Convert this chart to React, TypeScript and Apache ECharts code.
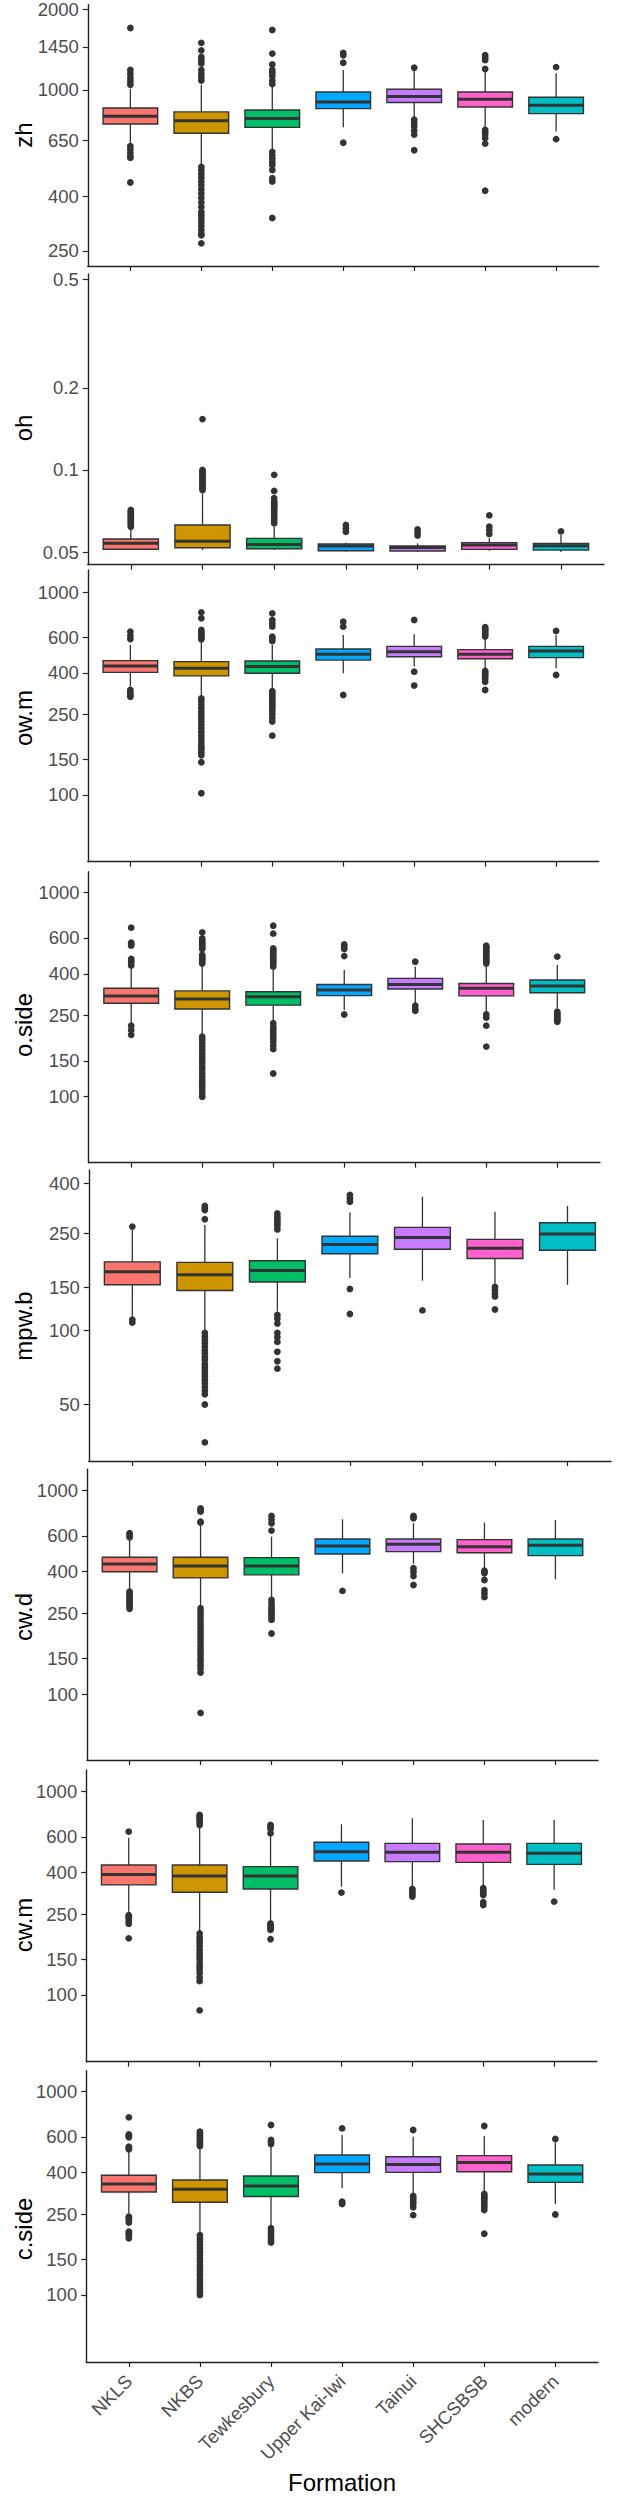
import React, { useEffect, useRef } from "react";
import * as echarts from "echarts";

// ---------- data ----------
const FORMATIONS = ["NKLS", "NKBS", "Tewkesbury", "Upper Kai-Iwi", "Tainui", "SHCSBSB", "modern"];
const FILL_COLORS = ["#F8766D", "#CD9600", "#00BE67", "#00A9FF", "#C77CFF", "#FF61CC", "#00BFC4"];
const VARIABLES = ["zh", "oh", "ow.m", "o.side", "mpw.b", "cw.d", "cw.m", "c.side"];

// tick labels per panel
const zhTicks = ["250", "400", "650", "1000", "1450", "2000"];
const ohTicks = ["0.05", "0.1", "0.2", "0.5"];
const mmTicks = ["100", "150", "250", "400", "600", "1000"];
const mpwTicks = ["50", "100", "150", "250", "400"];

// box stats per formation: [lower whisker, Q1, median, Q3, upper whisker]
const zhStats = [
  [630, 746, 798, 856, 1009], [524, 689, 767, 828, 1046], [595, 725, 782, 842, 1031],
  [725, 852, 901, 983, 1188], [782, 898, 945, 1006, 1188], [725, 864, 924, 983, 1188], [699, 816, 876, 940, 1155],
];
const zhOutliers = [
  [1705, 1188, 1148, 1107, 1076, 1046, 617, 600, 583, 567, 558, 451],
  [1501, 1407, 1330, 1293, 1257, 1188, 1148, 1116, 1085, 515, 500, 485, 470, 455, 440, 425, 410, 395, 380, 365, 350, 340, 330, 320, 310, 300, 290, 286, 267],
  [1676, 1368, 1246, 1188, 1161, 1129, 1085, 1052, 587, 569, 554, 539, 524, 502, 468, 455, 332],
  [1375, 1349, 1264, 635],
  [1211, 774, 753, 731, 705, 681, 595],
  [1349, 1319, 1293, 1198, 709, 695, 681, 661, 630, 420],
  [1218, 655],
];

const ohStats = [
  [0.0508, 0.0512, 0.0538, 0.0558, 0.0605], [0.0508, 0.0518, 0.0548, 0.0628, 0.0821], [0.0508, 0.0514, 0.0533, 0.0561, 0.0619],
  [0.0502, 0.0505, 0.0526, 0.0535, 0.0541], [0.05, 0.0504, 0.0519, 0.0526, 0.0538], [0.0505, 0.0511, 0.053, 0.0541, 0.0561], [0.05, 0.0508, 0.0527, 0.0538, 0.0577],
];
const ohOutliers = [
  [0.0713, 0.0703, 0.0693, 0.0683, 0.0674, 0.0665, 0.0655, 0.0646, 0.0637, 0.0628, 0.0619],
  [0.1536, 0.1, 0.0986, 0.0972, 0.0958, 0.0945, 0.0932, 0.0919, 0.0906, 0.0893, 0.088, 0.0868, 0.0856, 0.0844],
  [0.0959, 0.0837, 0.0787, 0.0765, 0.0754, 0.0743, 0.0733, 0.0723, 0.0708, 0.0693, 0.0678, 0.0664, 0.065, 0.0637],
  [0.0628, 0.061, 0.0593],
  [0.0605, 0.0589, 0.0575],
  [0.0681, 0.0619, 0.0602, 0.0582],
  [0.0595],
];

const owmStats = [
  [342, 402, 432, 459, 548], [305, 386, 421, 454, 569], [335, 398, 429, 457, 548],
  [398, 462, 493, 524, 614], [429, 480, 508, 540, 619], [421, 469, 493, 520, 585], [421, 475, 512, 540, 614],
];
const owmOutliers = [
  [638, 610, 587, 329, 320, 311, 305],
  [794, 742, 650, 638, 626, 614, 603, 594, 585, 299, 289, 278, 268, 257, 248, 239, 230, 221, 213, 205, 197, 190, 183, 176, 171, 167, 162, 157, 145, 102],
  [785, 728, 700, 675, 603, 590, 574, 325, 318, 311, 302, 294, 287, 280, 273, 267, 258, 250, 240, 230, 196],
  [714, 675, 311],
  [728, 405, 346],
  [670, 660, 650, 638, 626, 614, 603, 408, 400, 391, 383, 375, 361, 329],
  [643, 390],
];

const osideStats = [
  [229, 287, 312, 340, 426], [201, 269, 301, 330, 442], [233, 281, 309, 327, 418],
  [266, 313, 333, 355, 418], [287, 337, 355, 380, 434], [261, 312, 340, 359, 442], [271, 323, 349, 373, 442],
];
const osideOutliers = [
  [674, 569, 560, 550, 473, 465, 456, 440, 223, 212, 201],
  [639, 597, 584, 571, 560, 550, 540, 530, 495, 486, 477, 468, 459, 450, 197, 190, 183, 176, 169, 163, 157, 151, 146, 140, 135, 130, 125, 120, 116, 112, 108, 104, 100],
  [689, 630, 533, 523, 514, 504, 495, 484, 473, 464, 456, 445, 434, 229, 220, 214, 208, 202, 197, 191, 186, 178, 171, 130],
  [558, 544, 530, 489, 253],
  [459, 279, 269, 264],
  [550, 540, 530, 520, 510, 500, 491, 480, 468, 459, 450, 253, 244, 223, 176],
  [486, 261, 256, 251, 246, 242, 237, 233],
];

const mpwbStats = [
  [114, 154, 174, 191, 258], [101, 146, 169, 190, 270], [120, 158, 176, 193, 238],
  [164, 206, 225, 243, 304], [160, 215, 240, 264, 352], [154, 197, 217, 236, 306], [154, 213, 248, 276, 323],
];
const mpwbOutliers = [
  [266, 111, 108],
  [323, 317, 311, 285, 98, 95, 92, 89, 86, 83, 81, 78, 76, 73, 71, 69, 67, 65, 63, 61, 59, 57, 55, 50, 35],
  [301, 292, 285, 279, 273, 267, 259, 116, 112, 107, 98, 94, 90, 82, 75, 70],
  [358, 347, 336, 148, 117],
  [121],
  [151, 147, 142, 138, 122],
  [],
];

const cwdStats = [
  [325, 400, 437, 471, 584], [270, 373, 427, 471, 671], [296, 386, 427, 469, 595],
  [393, 489, 535, 579, 724], [437, 502, 545, 579, 692], [416, 496, 531, 575, 697], [367, 480, 539, 579, 718],
];
const cwdOutliers = [
  [618, 604, 590, 319, 313, 307, 301, 296, 290, 285, 280, 275, 269, 263],
  [819, 804, 789, 705, 697, 265, 255, 245, 236, 228, 219, 211, 203, 196, 188, 181, 174, 168, 162, 156, 150, 145, 139, 134, 128, 81],
  [751, 721, 692, 637, 291, 281, 270, 264, 258, 251, 245, 238, 232, 199],
  [322],
  [751, 741, 732, 416, 400, 381, 344],
  [405, 399, 393, 364, 325, 313, 300],
  [],
];

const cwmStats = [
  [257, 348, 392, 436, 594], [205, 320, 385, 436, 673], [230, 332, 385, 428, 612],
  [341, 456, 507, 564, 691], [341, 453, 503, 557, 740], [341, 449, 503, 553, 726], [329, 439, 498, 557, 726],
];
const cwmOutliers = [
  [636, 247, 242, 238, 231, 224, 190],
  [768, 754, 740, 723, 707, 686, 201, 193, 186, 179, 173, 166, 160, 154, 149, 143, 138, 133, 128, 122, 117, 84],
  [686, 671, 656, 624, 225, 221, 217, 213, 209, 188],
  [319],
  [332, 326, 320, 312, 305],
  [335, 328, 322, 316, 310, 286, 277],
  [288],
];

const csideStats = [
  [252, 321, 352, 388, 507], [201, 286, 331, 368, 527], [217, 305, 344, 385, 541],
  [335, 400, 441, 488, 612], [314, 401, 439, 479, 601], [319, 404, 448, 485, 605], [280, 358, 394, 436, 562],
];
const csideOutliers = [
  [748, 617, 607, 597, 537, 529, 521, 243, 238, 234, 227, 205, 201, 197, 190],
  [636, 624, 612, 601, 590, 575, 562, 551, 541, 197, 190, 183, 176, 170, 163, 157, 151, 146, 140, 135, 130, 125, 120, 116, 112, 108, 104, 100],
  [686, 579, 566, 553, 213, 207, 201, 195, 190, 185, 181],
  [660, 288, 284, 280],
  [648, 307, 300, 293, 286, 280, 270, 247],
  [678, 314, 308, 302, 296, 291, 284, 277, 270, 262, 200],
  [585, 249],
];

const ALL_STATS = [zhStats, ohStats, owmStats, osideStats, mpwbStats, cwdStats, cwmStats, csideStats];
const ALL_OUTLIERS = [zhOutliers, ohOutliers, owmOutliers, osideOutliers, mpwbOutliers, cwdOutliers, cwmOutliers, csideOutliers];
const ALL_TICKS = [zhTicks, ohTicks, mmTicks, mmTicks, mpwTicks, mmTicks, mmTicks, mmTicks];

// ---------- layout (pixels, log10 axis extents) ----------
const LAYOUT = [
  { l: 87.8, r: 598.7, t: 0, b: 266, lo: 2.3418, hi: 3.3194, ty: 135 },
  { l: 87.8, r: 604, t: 274, b: 564.7, lo: -1.3476, hi: -0.2816, ty: 428 },
  { l: 87.8, r: 598.7, t: 570, b: 861.7, lo: 1.6714, hi: 3.1084, ty: 718 },
  { l: 88.6, r: 599.9, t: 871.7, b: 1162.7, lo: 1.6765, hi: 3.1029, ty: 1025 },
  { l: 88.8, r: 611, t: 1170, b: 1461, lo: 1.4682, hi: 2.6559, ty: 1326 },
  { l: 87, r: 598, t: 1469.3, b: 1760, lo: 1.6773, hi: 3.1051, ty: 1617 },
  { l: 86.2, r: 596.7, t: 1770, b: 2061.7, lo: 1.6719, hi: 3.1067, ty: 1925 },
  { l: 86.2, r: 598, t: 2070.7, b: 2362, lo: 1.6704, hi: 3.1033, ty: 2229 },
];

const FONT = "'Liberation Sans', Arial, Helvetica, sans-serif";
const INK = "#333333";
const AXIS = "#222222";
const TICK_TEXT = "#4D4D4D";

function buildOption() {
  const grid: any[] = [];
  const xAxis: any[] = [];
  const yAxis: any[] = [];
  const series: any[] = [];
  const graphic: any[] = [];
  const catPos = FORMATIONS.map((_, i) => i + 1);

  LAYOUT.forEach((L, p) => {
    grid.push({ left: L.l, top: L.t, width: L.r - L.l, height: L.b - L.t, containLabel: false });
    const isLast = p === LAYOUT.length - 1;
    xAxis.push({
      type: "value", gridIndex: p, min: 0.4, max: 7.6,
      axisLine: { show: true, onZero: false, lineStyle: { color: AXIS, width: 1.4 } },
      axisTick: { show: true, customValues: catPos, length: 5, lineStyle: { color: AXIS, width: 1.2 } },
      axisLabel: {
        show: isLast, customValues: catPos, rotate: 45, margin: 16,
        color: TICK_TEXT, fontSize: 18.5, fontFamily: FONT,
        formatter: (v: number) => FORMATIONS[Math.round(v) - 1] ?? "",
      },
      splitLine: { show: false },
    });
    const ticks = ALL_TICKS[p];
    const tickLogs = ticks.map((t) => Math.log10(parseFloat(t)));
    yAxis.push({
      type: "value", gridIndex: p, min: L.lo, max: L.hi,
      axisLine: { show: true, onZero: false, lineStyle: { color: AXIS, width: 1.4 } },
      axisTick: { show: true, customValues: tickLogs, length: 5, lineStyle: { color: AXIS, width: 1.2 } },
      axisLabel: {
        show: true, customValues: tickLogs, margin: 9,
        color: TICK_TEXT, fontSize: 18.5, fontFamily: FONT,
        formatter: (v: number) => {
          let best = 0;
          tickLogs.forEach((tl, k) => { if (Math.abs(tl - v) < Math.abs(tickLogs[best] - v)) best = k; });
          return ticks[best];
        },
      },
      splitLine: { show: false },
    });

    const stats = ALL_STATS[p];
    series.push({
      type: "custom", xAxisIndex: p, yAxisIndex: p, clip: false,
      encode: { x: 0, y: [1, 2, 3, 4, 5] },
      data: stats.map((s, j) => [j + 1, ...s.map((v) => Math.log10(v))]),
      renderItem: (params: any, api: any) => {
        const x = api.value(0);
        const pLo = api.coord([x, api.value(1)]);
        const pQ1 = api.coord([x, api.value(2)]);
        const pMed = api.coord([x, api.value(3)]);
        const pQ3 = api.coord([x, api.value(4)]);
        const pHi = api.coord([x, api.value(5)]);
        const bw = api.size([1, 0])[0] * 0.77;
        const cx = pLo[0];
        const fill = FILL_COLORS[Math.round(x) - 1];
        return {
          type: "group",
          children: [
            { type: "line", shape: { x1: cx, y1: pHi[1], x2: cx, y2: pQ3[1] }, style: { stroke: INK, lineWidth: 1.3 } },
            { type: "line", shape: { x1: cx, y1: pQ1[1], x2: cx, y2: pLo[1] }, style: { stroke: INK, lineWidth: 1.3 } },
            { type: "rect", shape: { x: cx - bw / 2, y: pQ3[1], width: bw, height: pQ1[1] - pQ3[1] }, style: { fill, stroke: INK, lineWidth: 1.4 } },
            { type: "line", shape: { x1: cx - bw / 2, y1: pMed[1], x2: cx + bw / 2, y2: pMed[1] }, style: { stroke: INK, lineWidth: 3 } },
          ],
        };
      },
      z: 2,
    });
    const pts: number[][] = [];
    ALL_OUTLIERS[p].forEach((arr, j) => arr.forEach((v) => pts.push([j + 1, Math.log10(v)])));
    series.push({
      type: "scatter", xAxisIndex: p, yAxisIndex: p, clip: false,
      data: pts, symbol: "circle", symbolSize: 6.8,
      itemStyle: { color: INK, opacity: 1 },
      z: 3,
    });

    graphic.push({
      type: "text", x: 23, y: L.ty, rotation: Math.PI / 2,
      style: { text: VARIABLES[p], fill: "#000", font: `24px ${FONT}`, textAlign: "center", textVerticalAlign: "middle" },
    });
  });

  graphic.push({
    type: "text", x: 342, y: 2482,
    style: { text: "Formation", fill: "#000", font: `24px ${FONT}`, textAlign: "center", textVerticalAlign: "middle" },
  });

  return { animation: false, backgroundColor: "#fff", grid, xAxis, yAxis, series, graphic };
}

export default function App() {
  const ref = useRef<HTMLDivElement>(null);
  useEffect(() => {
    if (!ref.current) return;
    const chart = echarts.init(ref.current, undefined, { renderer: "svg" });
    chart.setOption(buildOption() as any);
    return () => chart.dispose();
  }, []);
  return <div ref={ref} style={{ position: "absolute", left: 0, top: 0, width: 623, height: 2500, background: "#fff" }} />;
}
